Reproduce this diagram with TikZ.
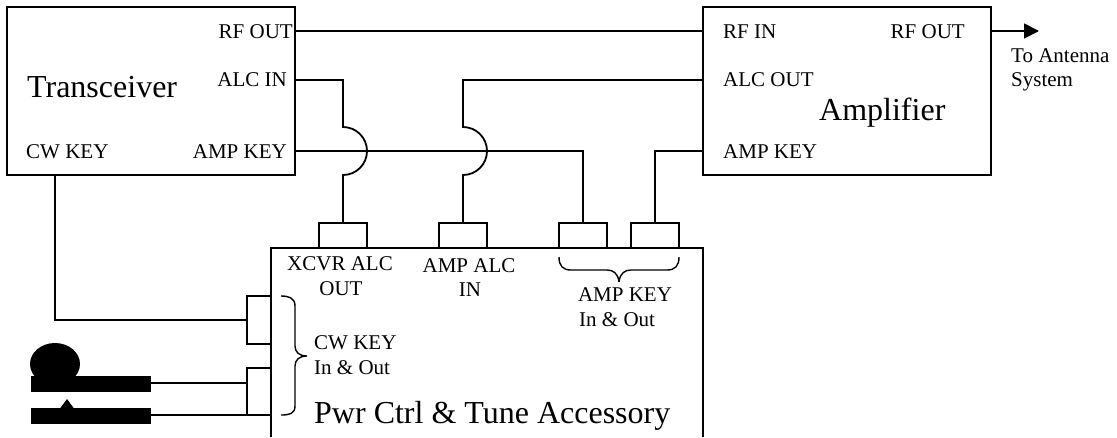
\documentclass[tikz,border=0pt]{standalone}
\usepackage{fontspec}
\setmainfont{Liberation Serif}
\usetikzlibrary{arrows.meta}
\tikzset{
  wire/.style={line width=1.8pt,line join=miter},
  boxn/.style={draw,line width=1.8pt,inner sep=0pt,outer sep=0pt,anchor=north west},
  tabn/.style={draw,line width=1.8pt,inner sep=0pt,outer sep=0pt,anchor=north west},
  small/.style={font=\fontsize{21}{24}\selectfont,inner sep=0pt},
  big/.style={font=\fontsize{32}{36}\selectfont,inner sep=0pt},
  blk/.style={fill=black,draw=none,inner sep=0pt,outer sep=0pt,anchor=north west},
}
\begin{document}
\begin{tikzpicture}[x=1pt,y=-1pt]
\useasboundingbox (0,0) rectangle (1117,437);
% boxes
\node[boxn,minimum width=288pt,minimum height=168pt] (xcvr) at (7,7) {};
\node[boxn,minimum width=288pt,minimum height=168pt] (amp) at (703,7) {};
\node[inner sep=0pt,outer sep=0pt,anchor=north west,minimum width=432pt,minimum height=189pt] (pwr) at (271,248) {};
\draw[wire] (pwr.south west) -- (pwr.north west) -- (pwr.north east) -- (pwr.south east);
% tabs
\node[tabn,minimum width=48pt,minimum height=25pt] (t1) at (319,223) {};
\node[tabn,minimum width=48pt,minimum height=25pt] (t2) at (439,223) {};
\node[tabn,minimum width=48pt,minimum height=25pt] (t3) at (559,223) {};
\node[tabn,minimum width=48pt,minimum height=25pt] (t4) at (631,223) {};
\node[tabn,minimum width=24pt,minimum height=48pt] (k1) at (247,296) {};
\node[tabn,minimum width=24pt,minimum height=47pt] (k2) at (247,368) {};
% key shapes
\node[blk,minimum width=120pt,minimum height=15.5pt] (bar1) at (31,376) {};
\node[blk,minimum width=120pt,minimum height=15.5pt] (bar2) at (31,408) {};
\fill (55,364) ellipse [x radius=25, y radius=21];
\fill (60,408.5) -- (67,399) -- (74,408.5) -- cycle;
% connectors
\draw[wire] (xcvr.east |- 0,31) -- (amp.west |- 0,31);
\draw[wire] (xcvr.east |- 0,80) -| (t1.north |- 0,127) arc[start angle=-90,end angle=90,radius=24] -- (t1.north);
\draw[wire] (amp.west |- 0,80) -| (t2.north |- 0,127) arc[start angle=-90,end angle=90,radius=24] -- (t2.north);
\draw[wire] (xcvr.east |- 0,151) -| (t3.north);
\draw[wire] (amp.west |- 0,151) -| (t4.north);
\draw[wire] (55,175) |- (k1.west);
\draw[wire] (bar1.east |- 0,383) -- (k2.west |- 0,383);
\draw[wire] (bar2.east |- 0,415) -- (k2.south east);
\coordinate (antenna) at (1039,31);
\draw[wire,-{Triangle[length=15pt,width=15pt]}] (amp.east |- 0,31) -- (antenna);
% braces
\draw[line width=1.4pt] (281,296) .. controls (289,296) and (295,298) .. (295,306) -- (295,346) .. controls (295,352) and (299,356) .. (307,356)
  (307,356) .. controls (299,356) and (295,360) .. (295,366) -- (295,406) .. controls (295,414) and (289,415) .. (281,415);
\draw[line width=1.4pt] (559,257) .. controls (559,266) and (563,270) .. (571,270) -- (607,270) .. controls (613,270) and (618,273) .. (619,282)
  (619,282) .. controls (620,273) and (625,270) .. (631,270) -- (667,270) .. controls (675,270) and (679,266) .. (679,257);
% labels
\node[small,anchor=base east] (l1) at (293,38) {RF OUT};
\node[small,anchor=base east] (l2) at (287,86) {ALC IN};
\node[small,anchor=base east] (l3) at (287,158) {AMP KEY};
\node[small,anchor=base west] (l4) at (26,158) {CW KEY};
\node[big,anchor=base west] (l5) at (27,97) {Transceiver};
\node[small,anchor=base west] (l6) at (723,38) {RF IN};
\node[small,anchor=base east] (l7) at (965,38) {RF OUT};
\node[small,anchor=base west] (l8) at (723,86) {ALC OUT};
\node[small,anchor=base west] (l9) at (723,158) {AMP KEY};
\node[big,anchor=base west] (l10) at (819,120) {Amplifier};
\node[small,anchor=base west] (l11) at (1011,62) {To Antenna};
\node[small,anchor=base west] (l12) at (1011,86) {System};
\node[small,anchor=base] (l13) at (340,270) {XCVR ALC};
\node[small,anchor=base] (l14) at (341,295) {OUT};
\node[small,anchor=base] (l15) at (469,272) {AMP ALC};
\node[small,anchor=base] (l16) at (470,296) {IN};
\node[small,anchor=base] (l17) at (625,301) {AMP KEY};
\node[small,anchor=base west] (l18) at (579,326) {In \& Out};
\node[small,anchor=base west] (l19) at (314,349) {CW KEY};
\node[small,anchor=base west] (l20) at (314,374) {In \& Out};
\node[big,anchor=base west] (l21) at (314,423) {Pwr Ctrl \& Tune Accessory};
\end{tikzpicture}
\end{document}
